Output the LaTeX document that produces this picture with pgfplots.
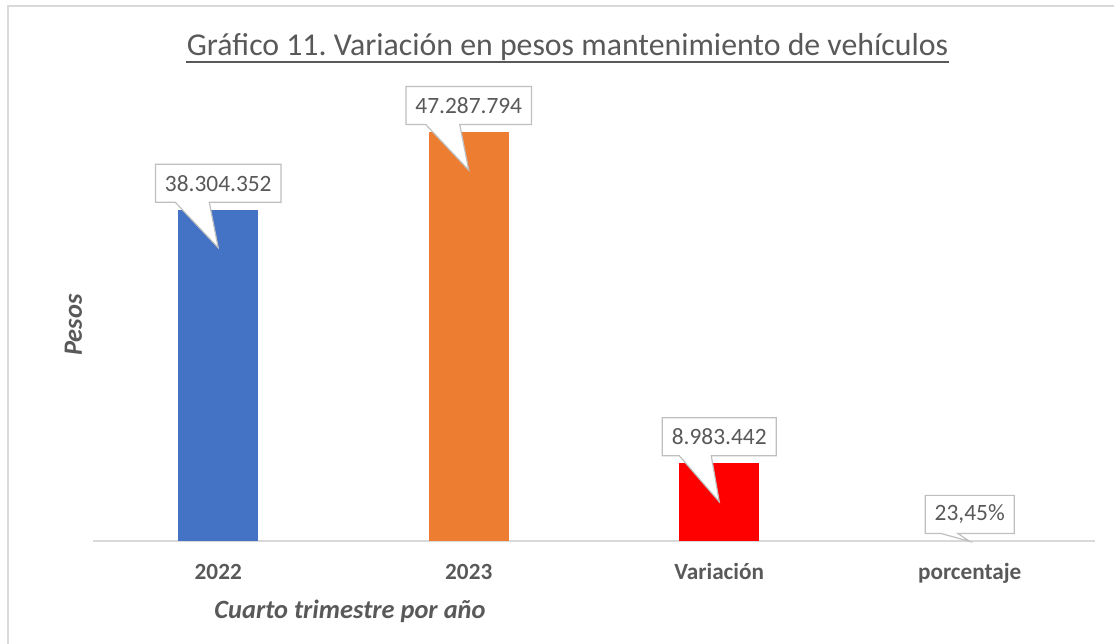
\documentclass[border=0pt]{standalone}
\usepackage{fontspec}
\setmainfont{Carlito}
\usepackage{pgfplots}
\pgfplotsset{compat=1.18}
\frenchspacing
\definecolor{txt}{HTML}{595959}
\definecolor{c2022}{HTML}{4472C4}
\definecolor{c2023}{HTML}{ED7D31}
\definecolor{cvar}{HTML}{FF0000}
\definecolor{lgray}{HTML}{D9D9D9}
\definecolor{bgray}{HTML}{BFBFBF}

% Excel-like callout outline drawn under the label text:
% {left end of pointer base}{right end of pointer base}{tip depth}
\tikzset{
  excall/.style n args={3}{append after command={\pgfextra{
    \begin{pgfinterruptpath}
    \draw[bgray, line width=.6pt, fill=white, line join=miter]
      (\tikzlastnode.north west) -- (\tikzlastnode.north east)
      -- (\tikzlastnode.south east) -- ([xshift=#2]\tikzlastnode.south)
      -- ([yshift=#3]\tikzlastnode.south) -- ([xshift=#1]\tikzlastnode.south)
      -- (\tikzlastnode.south west) -- cycle;
    \end{pgfinterruptpath}}}},
}

\begin{document}
\begin{tikzpicture}
\useasboundingbox (-46.5pt,-51pt) rectangle (510.5pt,270.5pt);
\draw[lgray,line width=1pt] (-42.5pt,-60pt) -- (-42.5pt,267.5pt) -- (520pt,267.5pt);
\begin{axis}[
  scale only axis, width=501pt, height=216.15pt,
  xmin=-0.5, xmax=3.5, ymin=0, ymax=50000000,
  clip=false, axis x line*=bottom, axis y line=none,
  x axis line style={lgray, line width=1pt},
  xtick={0,1,2,3}, xticklabels={2022,2023,Variación,porcentaje},
  xticklabel style={font=\bfseries\fontsize{11.6}{14}\selectfont, text=txt, anchor=base, yshift=-19pt},
  major tick length=0pt, ytick=\empty,
  ybar, bar width=40pt, bar shift=0pt,
  nodes near coords, point meta=explicit symbolic,
  every node near coord/.style={draw=none, fill=none, text=txt,
    font=\fontsize{11.7}{14}\selectfont, inner xsep=4.75pt, inner ysep=0pt,
    outer sep=0pt, minimum height=19pt, anchor=center, yshift=13.3pt},
]
\addplot[fill=c2022, draw=none, bar shift=0pt,
  every node near coord/.append style={excall={-21.5pt}{-4.5pt}{-22.8pt}}]
  coordinates {(0,38304352) [38.304.352]};
\addplot[fill=c2023, draw=none, bar shift=0pt,
  every node near coord/.append style={excall={-21.5pt}{-4.5pt}{-22.8pt}}]
  coordinates {(1,47287794) [47.287.794]};
\addplot[fill=cvar, draw=none, bar shift=0pt,
  every node near coord/.append style={excall={-20pt}{-4pt}{-23pt}}]
  coordinates {(2,8983442) [8.983.442]};
\addplot[fill=none, draw=none, bar shift=0pt,
  every node near coord/.append style={excall={-14.5pt}{-6pt}{-4pt}}]
  coordinates {(3,23.45) [23,45\%]};
\end{axis}
\node[anchor=base, inner sep=0pt, font=\fontsize{15.9}{19}\selectfont, text=txt] (T)
  at (237.25pt,242.5pt) {Gráfico 11. Variación en pesos mantenimiento de vehículos};
\draw[txt, line width=0.9pt] ([yshift=-3pt]T.base west) -- ([yshift=-3pt]T.base east);
\node[anchor=base, font=\bfseries\itshape\fontsize{13.2}{16}\selectfont, text=txt]
  at (128.5pt,-38.5pt) {Cuarto trimestre por año};
\node[rotate=90, anchor=base, font=\bfseries\itshape\fontsize{13.2}{16}\selectfont, text=txt]
  at (-5.5pt,108pt) {Pesos};
\end{tikzpicture}
\end{document}
